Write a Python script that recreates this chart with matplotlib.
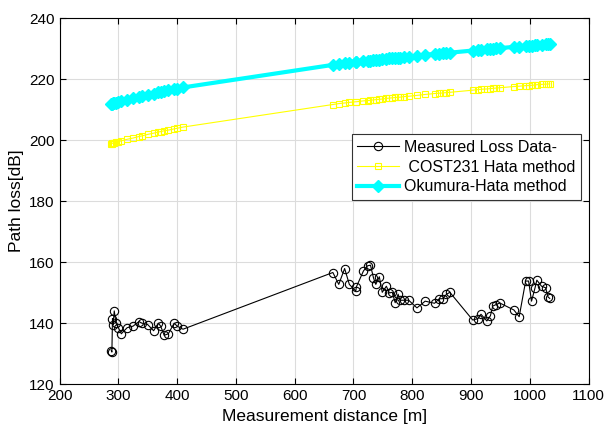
import matplotlib
matplotlib.use("Agg")
import matplotlib.pyplot as plt

plt.rcParams['font.family'] = ['Liberation Sans', 'DejaVu Sans']

# measurement distances [m]
distance = [288, 289, 290, 291, 293, 296, 300, 305, 315, 325, 335, 340, 350, 360,
            368, 372, 378, 385, 395, 400, 410,
            665, 675, 685, 693, 704, 705, 717, 724, 729, 734, 738, 744, 749, 756,
            761, 766, 771, 776, 779, 786, 794, 808, 822, 838, 846, 852, 858, 864,
            903, 912, 917, 927, 933, 937, 943, 949, 973, 982, 993, 998, 1003, 1009,
            1012, 1020, 1027, 1031, 1034]

# measured path loss [dB]
measured = [131.0, 130.5, 141.5, 139.5, 144.0, 140.0, 138.5, 136.5, 138.5, 139.0,
            140.5, 140.0, 139.5, 137.5, 140.0, 139.0, 136.0, 136.5, 140.0, 139.0, 138.0,
            156.6, 152.7, 157.9, 152.7, 150.5, 151.9, 157.1, 158.8, 159.0, 154.9,
            152.7, 155.2, 150.1, 152.1, 149.9, 150.1, 146.7, 149.5, 147.5, 147.5,
            147.5, 145.0, 147.2, 146.5, 148.0, 148.0, 149.4, 150.1,
            141.0, 141.5, 142.9, 140.7, 142.4, 145.6, 146.1, 146.6, 144.3, 142.1,
            153.8, 153.8, 147.2, 151.6, 154.1, 152.1, 151.6, 148.6, 148.1]

# COST231 Hata prediction [dB]
cost231 = [198.9, 198.9, 199.0, 199.1, 199.2, 199.3, 199.5, 199.8, 200.3, 200.7,
           201.2, 201.4, 201.9, 202.3, 202.7, 202.8, 203.1, 203.3, 203.7, 203.9, 204.3,
           211.7, 212.0, 212.2, 212.4, 212.6, 212.6, 212.9, 213.0, 213.1, 213.2,
           213.3, 213.4, 213.5, 213.7, 213.8, 213.9, 214.0, 214.1, 214.1, 214.3,
           214.4, 214.7, 215.0, 215.3, 215.4, 215.5, 215.6, 215.7,
           216.4, 216.6, 216.7, 216.8, 216.9, 217.0, 217.1, 217.2, 217.6, 217.7,
           217.9, 217.9, 218.0, 218.1, 218.2, 218.3, 218.4, 218.4, 218.5]

# Okumura-Hata prediction [dB]
okumura = [211.9, 211.9, 212.0, 212.1, 212.2, 212.3, 212.5, 212.8, 213.3, 213.7,
           214.2, 214.4, 214.9, 215.3, 215.7, 215.8, 216.1, 216.3, 216.7, 216.9, 217.3,
           224.7, 225.0, 225.2, 225.4, 225.6, 225.6, 225.9, 226.0, 226.1, 226.2,
           226.3, 226.4, 226.5, 226.7, 226.8, 226.9, 227.0, 227.1, 227.1, 227.3,
           227.4, 227.7, 228.0, 228.3, 228.4, 228.5, 228.6, 228.7,
           229.4, 229.6, 229.7, 229.8, 229.9, 230.0, 230.1, 230.2, 230.6, 230.7,
           230.9, 230.9, 231.0, 231.1, 231.2, 231.3, 231.4, 231.4, 231.5]

fig = plt.figure(figsize=(6.08, 4.34), dpi=100)
ax = fig.add_axes([0.098, 0.115, 0.870, 0.843])

ax.plot(distance, measured, color='black', lw=0.8, marker='o', ms=6,
        mfc='none', mec='black', mew=0.8, label='Measured Loss Data-')
ax.plot(distance, cost231, color='yellow', lw=0.8, marker='s', ms=5,
        mfc='none', mec='yellow', mew=0.8, label=' COST231 Hata method')
ax.plot(distance, okumura, color='cyan', lw=3, marker='D', ms=6,
        mfc='cyan', mec='cyan', label='Okumura-Hata method')

ax.set_xlim(200, 1100)
ax.set_ylim(120, 240)
ax.set_xticks(range(200, 1101, 100))
ax.set_yticks(range(120, 241, 20))
ax.tick_params(direction='in', labelsize=11, top=True, right=True, length=4)
ax.grid(True, color='#dcdcdc', lw=0.8)
ax.set_axisbelow(True)
for s in ax.spines.values():
    s.set_linewidth(0.8)

ax.set_xlabel('Measurement distance [m]', fontsize=12.5)
ax.set_ylabel('Path loss[dB]', fontsize=12.5)

leg = ax.legend(loc='upper right', bbox_to_anchor=(1.0, 0.705), fontsize=11.5,
                handlelength=2.6, fancybox=False, edgecolor='#333333',
                framealpha=1, borderpad=0.35, labelspacing=0.3, handletextpad=0.3)
leg.get_frame().set_linewidth(0.8)

fig.savefig('out.png', dpi=100)
